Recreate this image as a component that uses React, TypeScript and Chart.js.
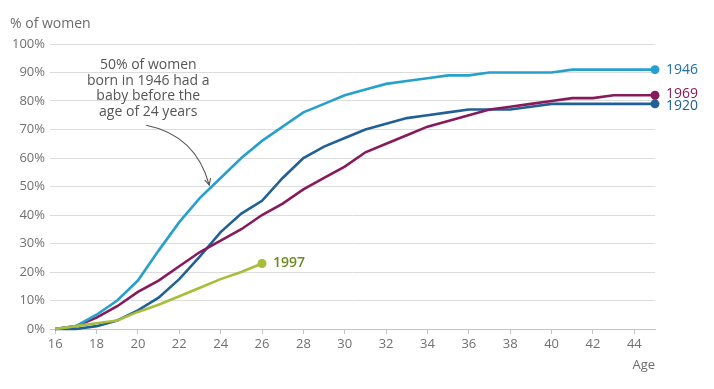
import React, { useEffect, useRef } from "react";
import { Chart, registerables } from "chart.js";

Chart.register(...registerables);

// ---------- data ----------
const ages = [16, 17, 18, 19, 20, 21, 22, 23, 24, 25, 26, 27, 28, 29, 30, 31, 32, 33, 34, 35, 36, 37, 38, 39, 40, 41, 42, 43, 44, 45];
const cohort1920 = [0, 0, 1, 3, 6.5, 11, 17.5, 25.5, 34, 40.5, 45, 53, 60, 64, 67, 70, 72, 74, 75, 76, 77, 77, 77, 78, 79, 79, 79, 79, 79, 79];
const cohort1946 = [0, 1, 5, 10, 17, 27.5, 37.5, 46, 53, 60, 66, 71, 76, 79, 82, 84, 86, 87, 88, 89, 89, 90, 90, 90, 90, 91, 91, 91, 91, 91];
const cohort1969 = [0, 1, 4, 8, 13, 17, 22, 27, 31, 35, 40, 44, 49, 53, 57, 62, 65, 68, 71, 73, 75, 77, 78, 79, 80, 81, 81, 82, 82, 82];
const cohort1997 = [0, 1, 2, 3, 6, 8.5, 11.5, 14.5, 17.5, 20, 23];
const seriesNames = ["1997", "1946", "1969", "1920"];
const xTickValues = [16, 18, 20, 22, 24, 26, 28, 30, 32, 34, 36, 38, 40, 42, 44];
const yTickValues = [0, 10, 20, 30, 40, 50, 60, 70, 80, 90, 100];
const yAxisTitle = "% of women";
const xAxisTitle = "Age";
const annotationLines = ["50% of women", "born in 1946 had a", "baby before the", "age of 24 years"];

const FONT = "'Open Sans', 'Noto Sans', sans-serif";

const toPoints = (vals: number[]) => vals.map((v, i) => ({ x: ages[i], y: v }));

export default function App() {
  const ref = useRef<HTMLCanvasElement | null>(null);

  useEffect(() => {
    document.body.style.margin = "0";
    const canvas = ref.current;
    if (!canvas) return;

    const lineColors = ["#a8bd3a", "#27a0cc", "#871a5b", "#206095"];
    const labelColors = ["#6f8a22", "#2070a8", "#871a5b", "#206095"];
    const labelDy = [0, 0, -1, 2];
    const values = [cohort1997, cohort1946, cohort1969, cohort1920];

    const datasets = values.map((vals, k) => ({
      label: seriesNames[k],
      data: toPoints(vals),
      borderColor: lineColors[k],
      backgroundColor: lineColors[k],
      borderWidth: 2.6,
      tension: 0,
      clip: false as any,
      pointRadius: vals.map((_, i) => (i === vals.length - 1 ? 4.5 : 0)),
      pointHoverRadius: 0,
      pointBorderWidth: 0,
    }));

    const decor = {
      id: "decor",
      afterDraw(chart: any) {
        const ctx = chart.ctx;
        const xs = chart.scales.x;
        const ys = chart.scales.y;
        ctx.save();
        // y axis title
        ctx.fillStyle = "#6b6b6b";
        ctx.font = `14px ${FONT}`;
        ctx.textAlign = "left";
        ctx.textBaseline = "middle";
        ctx.fillText(yAxisTitle, 10, 24);
        // x axis title
        ctx.font = `13px ${FONT}`;
        ctx.textAlign = "right";
        ctx.fillText(xAxisTitle, chart.chartArea.right, 365);

        // series end labels
        chart.data.datasets.forEach((ds: any, k: number) => {
          const last = ds.data[ds.data.length - 1];
          const px = xs.getPixelForValue(last.x);
          const py = ys.getPixelForValue(last.y);
          ctx.fillStyle = labelColors[k];
          ctx.font = `${k === 0 ? 600 : 400} 14px ${FONT}`;
          ctx.textAlign = "left";
          ctx.textBaseline = "middle";
          ctx.fillText(ds.label, px + 11, py + labelDy[k]);
        });

        // annotation text
        const cx = xs.getPixelForValue(20.5);
        ctx.fillStyle = "#555555";
        ctx.font = `14px ${FONT}`;
        ctx.textAlign = "center";
        ctx.textBaseline = "middle";
        const top = ys.getPixelForValue(92.5);
        annotationLines.forEach((t, i) => ctx.fillText(t, cx, top + i * 15.4));

        // arrow
        const sx = xs.getPixelForValue(20.4);
        const sy = ys.getPixelForValue(71.5);
        const ex = xs.getPixelForValue(23.45);
        const ey = ys.getPixelForValue(50.5);
        const qx = xs.getPixelForValue(22.8);
        const qy = ys.getPixelForValue(68);
        ctx.strokeStyle = "#555555";
        ctx.lineWidth = 1.1;
        ctx.beginPath();
        ctx.moveTo(sx, sy);
        ctx.quadraticCurveTo(qx, qy, ex, ey);
        ctx.stroke();
        const ang = Math.atan2(ey - qy, ex - qx);
        const ah = 7;
        ctx.beginPath();
        ctx.moveTo(ex - ah * Math.cos(ang - 0.45), ey - ah * Math.sin(ang - 0.45));
        ctx.lineTo(ex, ey);
        ctx.lineTo(ex - ah * Math.cos(ang + 0.45), ey - ah * Math.sin(ang + 0.45));
        ctx.stroke();
        ctx.restore();
      },
    };

    const chart = new Chart(canvas, {
      type: "line",
      data: { datasets: datasets as any },
      options: {
        animation: false,
        responsive: false,
        maintainAspectRatio: false,
        layout: { padding: { left: 0, right: 59, top: 44, bottom: 0 } },
        plugins: { legend: { display: false }, tooltip: { enabled: false } },
        events: [],
        scales: {
          x: {
            type: "linear",
            min: 15.75,
            max: 45,
            afterBuildTicks: (s: any) => {
              s.ticks = xTickValues.map((v) => ({ value: v }));
            },
            afterFit: (s: any) => {
              s.height = 60;
            },
            grid: { drawOnChartArea: false, drawTicks: true, tickLength: 5, color: "#c4c4c4" },
            border: { display: true, color: "#c4c4c4", width: 1 },
            ticks: {
              color: "#707070",
              font: { family: FONT, size: 13 },
              padding: 2,
              maxRotation: 0,
              autoSkip: false,
            },
          },
          y: {
            min: 0,
            max: 100,
            afterBuildTicks: (s: any) => {
              s.ticks = yTickValues.map((v) => ({ value: v }));
            },
            afterFit: (s: any) => {
              s.width = 50;
            },
            grid: { drawTicks: false, color: "#dcdcdc" },
            border: { display: false },
            ticks: {
              color: "#707070",
              font: { family: FONT, size: 13 },
              padding: 5,
              callback: (v: any) => `${v}%`,
            },
          },
        },
      },
      plugins: [decor],
    });

    return () => chart.destroy();
  }, []);

  return (
    <div style={{ width: 714, height: 389, background: "#fff" }}>
      <canvas ref={ref} width={714} height={389} style={{ display: "block" }} />
    </div>
  );
}
